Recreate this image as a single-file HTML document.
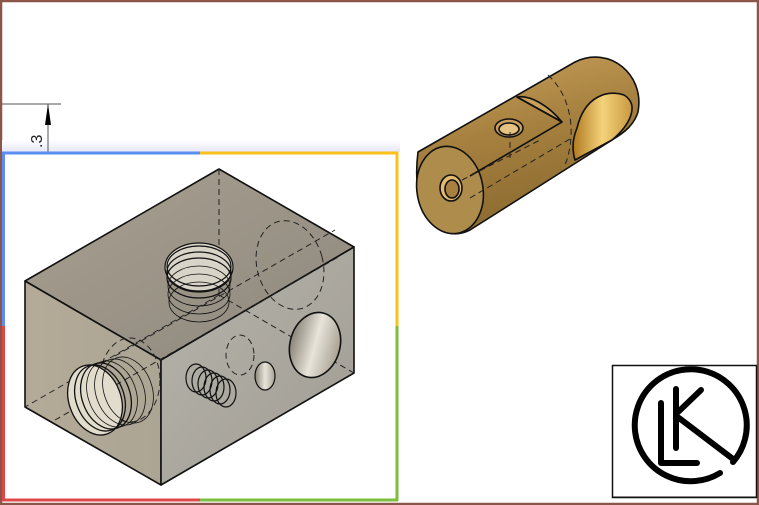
<!DOCTYPE html>
<html><head><meta charset="utf-8"><style>
html,body{margin:0;padding:0;background:#fff;}
svg{display:block;}
</style></head><body>
<svg width="759" height="505" viewBox="0 0 759 505" xmlns="http://www.w3.org/2000/svg">
<defs>
<linearGradient id="blk" x1="0" y1="0" x2="1" y2="1">
<stop offset="0" stop-color="#a8a090"/><stop offset="1" stop-color="#8e887e"/></linearGradient>
<linearGradient id="blkL" x1="0" y1="0" x2="1" y2="0">
<stop offset="0" stop-color="#b4aa98"/><stop offset="1" stop-color="#aca594"/></linearGradient>
<linearGradient id="blkR" x1="0" y1="0" x2="1" y2="1">
<stop offset="0" stop-color="#b6b4aa"/><stop offset="1" stop-color="#a09c94"/></linearGradient>
<linearGradient id="brass" x1="0" y1="0" x2="0.3" y2="1">
<stop offset="0" stop-color="#c9a15e"/><stop offset="0.5" stop-color="#a6803e"/><stop offset="1" stop-color="#8a6a30"/></linearGradient>
<linearGradient id="hole" x1="0" y1="0" x2="1" y2="0">
<stop offset="0" stop-color="#8a8478"/><stop offset="0.5" stop-color="#e8e4da"/><stop offset="1" stop-color="#a8a294"/></linearGradient>
<linearGradient id="bhole" x1="0" y1="0" x2="1" y2="0">
<stop offset="0" stop-color="#b07a20"/><stop offset="0.5" stop-color="#f4d27a"/><stop offset="1" stop-color="#c89840"/></linearGradient>
<linearGradient id="band" x1="0" y1="0" x2="0" y2="1">
<stop offset="0" stop-color="#fff"/><stop offset="1" stop-color="#e6e6f8"/></linearGradient>
</defs>
<rect x="1" y="1" width="757" height="503" fill="#fff" stroke="#8b5549" stroke-width="2.5"/>
<!-- dimension -->
<rect x="2" y="140" width="398" height="12" fill="url(#band)"/>
<line x1="2" y1="104" x2="61" y2="104" stroke="#555" stroke-width="1"/>
<line x1="48" y1="104" x2="48" y2="152" stroke="#555" stroke-width="1"/>
<polygon points="48,104 45,125 51,125" fill="#000"/>
<text x="0" y="0" font-family="Liberation Sans, sans-serif" font-size="16" transform="translate(42,148) rotate(-90)" fill="#222">.3</text>
<!-- frame -->
<line x1="2" y1="153" x2="200" y2="153" stroke="#5b8ef0" stroke-width="3"/>
<line x1="200" y1="153" x2="398" y2="153" stroke="#f8c21a" stroke-width="3"/>
<line x1="3.5" y1="152" x2="3.5" y2="326" stroke="#5b8ef0" stroke-width="3"/>
<line x1="3.5" y1="326" x2="3.5" y2="501" stroke="#e04848" stroke-width="3"/>
<line x1="397" y1="152" x2="397" y2="326" stroke="#f8c21a" stroke-width="3"/>
<line x1="397" y1="326" x2="397" y2="501" stroke="#7cbd3e" stroke-width="3"/>
<line x1="2" y1="500" x2="200" y2="500" stroke="#e04848" stroke-width="3"/>
<line x1="200" y1="500" x2="398" y2="500" stroke="#7cbd3e" stroke-width="3"/>
<!-- block -->
<g stroke="#111" stroke-width="1.6" stroke-linejoin="round">
<polygon points="219,169 354,247 161,360 25,281" fill="url(#blk)"/>
<polygon points="25,281 161,360 161,485 25,407" fill="url(#blkL)"/>
<polygon points="161,360 354,247 354,373 161,485" fill="url(#blkR)"/>
</g>
<g stroke="#222" stroke-width="1" fill="none" stroke-dasharray="6,4">
<line x1="219" y1="169" x2="219" y2="295"/>
<line x1="219" y1="295" x2="25" y2="407"/>
<line x1="219" y1="295" x2="354" y2="373"/>
<line x1="115" y1="356" x2="335" y2="230"/>
<line x1="55" y1="420" x2="340" y2="256"/>
<ellipse cx="290" cy="265" rx="33" ry="45" transform="rotate(-15 290 265)"/>
<ellipse cx="130" cy="380" rx="30" ry="42"/>
<ellipse cx="240" cy="355" rx="14" ry="20"/>
</g>
<!-- top threaded hole -->
<g fill="none" stroke="#111" stroke-width="1.2">
<ellipse cx="199" cy="267" rx="34" ry="24" fill="#d8d4c8"/>
<ellipse cx="199" cy="266" rx="32" ry="20"/>
<ellipse cx="199" cy="272" rx="32" ry="20"/>
<ellipse cx="199" cy="278" rx="32" ry="20"/>
<ellipse cx="199" cy="286" rx="31" ry="20" stroke-width="0.8"/>
<ellipse cx="199" cy="294" rx="31" ry="20" stroke-width="0.8"/>
<ellipse cx="199" cy="302" rx="30" ry="20" stroke-width="0.8"/>
</g>
<!-- left threaded hole -->
<g fill="none" stroke="#111" stroke-width="1.3">
<ellipse cx="95" cy="400" rx="26" ry="36" fill="#e2dccc" transform="rotate(-20 95 400)"/>
<ellipse cx="100" cy="398" rx="24" ry="34" transform="rotate(-20 100 398)"/>
<ellipse cx="106" cy="396" rx="24" ry="34" transform="rotate(-20 106 396)"/>
<ellipse cx="112" cy="394" rx="24" ry="34" stroke-width="0.8" transform="rotate(-20 112 394)"/>
<ellipse cx="120" cy="392" rx="24" ry="34" stroke-width="0.8" transform="rotate(-20 120 392)"/>
<ellipse cx="128" cy="390" rx="24" ry="34" stroke-width="0.8" transform="rotate(-20 128 390)"/>
</g>
<!-- small thread on right face -->
<g fill="none" stroke="#111" stroke-width="1.2">
<ellipse cx="196" cy="378" rx="10" ry="14"/>
<ellipse cx="202" cy="381" rx="10" ry="14"/>
<ellipse cx="208" cy="384" rx="10" ry="14"/>
<ellipse cx="214" cy="387" rx="10" ry="14"/>
<ellipse cx="220" cy="390" rx="10" ry="14"/>
<ellipse cx="226" cy="393" rx="10" ry="14"/>
</g>
<ellipse cx="265" cy="376" rx="10" ry="14" fill="url(#hole)" stroke="#111" stroke-width="1.2"/>
<ellipse cx="315" cy="345" rx="25" ry="33" fill="url(#hole)" stroke="#111" stroke-width="1.6" transform="rotate(15 315 345)"/>
<!-- brass cylinder -->
<g stroke="#111" stroke-width="1.6" stroke-linejoin="round">
<path d="M418,152 L575,62 C610,45 645,75 638,112 C634,125 625,132 612,140 L470,230 C440,245 410,215 418,152 Z" fill="url(#brass)"/>
<ellipse cx="450" cy="190" rx="33" ry="44" fill="#ad8c4c" transform="rotate(-10 450 190)"/>
<path d="M577,128 C585,95 608,90 624,95 C640,105 630,125 612,140 L575,160 C572,150 572,140 577,128 Z" fill="url(#bhole)"/>
<path d="M517,97 C530,95 548,105 562,122 L517,97 Z" fill="#c9a05a"/>
<line x1="517" y1="97" x2="562" y2="122"/>
<line x1="562" y1="122" x2="470" y2="176"/>
<ellipse cx="509" cy="128" rx="14" ry="9" fill="#c8a060"/>
<ellipse cx="509" cy="129" rx="10" ry="6" fill="#e6c282"/>
<ellipse cx="451" cy="188" rx="11" ry="13" fill="#e2bb70"/>
<ellipse cx="452" cy="189" rx="7" ry="9" fill="#a88040"/>
</g>
<g stroke="#222" stroke-width="1" fill="none" stroke-dasharray="6,4">
<line x1="462" y1="180" x2="540" y2="140"/>
<line x1="470" y1="198" x2="575" y2="136"/>
<line x1="510" y1="132" x2="510" y2="160"/>
<path d="M548,75 C575,100 575,140 565,165"/>
</g>
<!-- logo box -->
<rect x="612.5" y="365.5" width="144" height="132" fill="#fff" stroke="#111" stroke-width="1.5"/>
<line x1="612" y1="497" x2="757" y2="497" stroke="#111" stroke-width="1"/>
<g fill="none" stroke="#000" stroke-width="6" stroke-linecap="round" stroke-linejoin="round">
<path d="M733,462 A56,56 0 1 0 720,473"/>
<path d="M661,403 L661,463 L697,463"/>
<path d="M676,389 L676,448"/>
<path d="M676,414 L701,390"/>
<path d="M679,418 L733,459"/>
</g>
</svg>
</body></html>
